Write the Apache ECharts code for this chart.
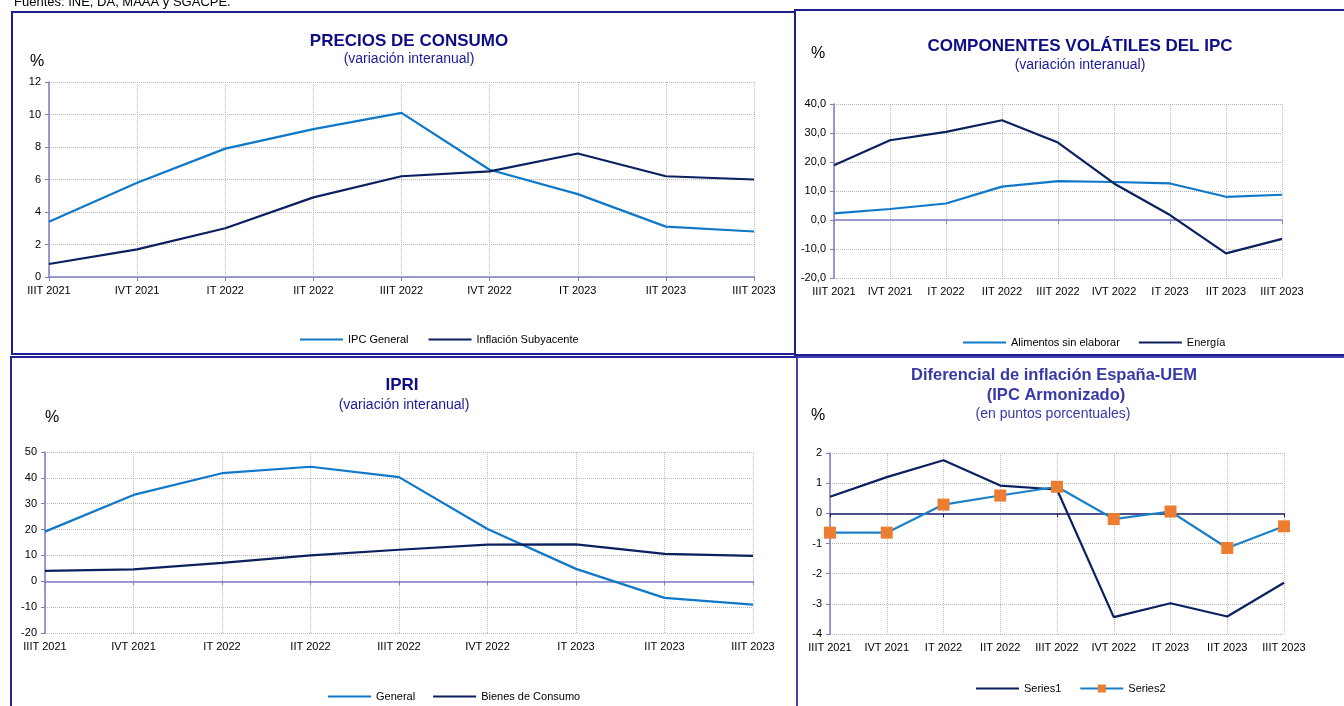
<!DOCTYPE html>
<html>
<head>
<meta charset="utf-8">
<script src="https://cdn.jsdelivr.net/npm/echarts@6/dist/echarts.min.js"></script>
<style>
  html, body { margin: 0; padding: 0; background: #fff; }
  #chart { width: 1344px; height: 706px; }
</style>
</head>
<body>
<div id="chart"></div>
<script>
// periodos (eje x común)
const periodos = ['IIIT 2021', 'IVT 2021', 'IT 2022', 'IIT 2022', 'IIIT 2022', 'IVT 2022', 'IT 2023', 'IIT 2023', 'IIIT 2023'];

// Precios de consumo
const ipcGeneral = [3.4, 5.8, 7.9, 9.1, 10.1, 6.6, 5.1, 3.1, 2.8];
const inflacionSubyacente = [0.8, 1.7, 3.0, 4.9, 6.2, 6.5, 7.6, 6.2, 6.0];

// Componentes volátiles
const alimentosSinElaborar = [2.3, 3.8, 5.7, 11.5, 13.4, 13.1, 12.6, 8.0, 8.7];
const energia = [18.9, 27.5, 30.4, 34.4, 26.7, 12.6, 1.7, -11.5, -6.5];

// IPRI
const ipriGeneral = [19.2, 33.4, 41.8, 44.3, 40.3, 20.2, 4.8, -6.4, -9.0];
const bienesConsumo = [4.0, 4.6, 7.1, 10.0, 12.2, 14.2, 14.3, 10.6, 9.8];

// Diferencial España-UEM
const series1 = [0.55, 1.2, 1.76, 0.92, 0.79, -3.44, -2.98, -3.42, -2.3];
const series2 = [-0.64, -0.64, 0.29, 0.59, 0.88, -0.19, 0.06, -1.15, -0.43];

const FONT = 'Liberation Sans, Arial, sans-serif';
const azulClaro = '#0f78c8';
const azulOscuro = '#0c1f5f';
const ejeColor = '#7d7dc6';
const rejilla = { show: true, lineStyle: { type: 'dotted', color: '#b8b8b8', width: 1 } };
const tituloColor = '#0d0d85';

// eje x principal (con etiquetas)
const ejeX = (gridIndex, conLinea) => ({
  type: 'category',
  gridIndex,
  data: periodos,
  boundaryGap: false,
  axisLine: { show: conLinea, onZero: false, lineStyle: { color: ejeColor, width: 1.5 } },
  axisTick: { show: conLinea, length: 4, lineStyle: { color: ejeColor } },
  axisLabel: { interval: 0, color: '#000', fontSize: 11, fontFamily: FONT, margin: 8 },
  splitLine: rejilla
});

// eje x en el cero (sin etiquetas)
const ejeCero = (gridIndex, color) => ({
  type: 'category',
  gridIndex,
  position: 'top',
  data: periodos,
  boundaryGap: false,
  axisLine: { show: true, onZero: true, lineStyle: { color, width: 1.5 } },
  axisTick: { show: true, inside: true, length: 4, lineStyle: { color } },
  axisLabel: { show: false },
  splitLine: { show: false }
});

const ejeY = (gridIndex, min, max, interval, formatter) => ({
  type: 'value',
  gridIndex,
  min, max, interval,
  axisLine: { show: true, lineStyle: { color: ejeColor, width: 1.5 } },
  axisTick: { show: true, length: 4, lineStyle: { color: ejeColor } },
  axisLabel: { color: '#000', fontSize: 11, fontFamily: FONT, margin: 8, formatter },
  splitLine: rejilla
});

const linea = (name, data, color, xAxisIndex, yAxisIndex, extra) => Object.assign({
  name, type: 'line', data, xAxisIndex, yAxisIndex,
  symbol: 'none',
  lineStyle: { color, width: 2.2 },
  itemStyle: { color },
  z: 3
}, extra || {});

const texto = (x, y, text, size, weight, color, align) => ({
  type: 'text', x, y,
  style: { text, fontSize: size, fontWeight: weight, fill: color, fontFamily: FONT, align: align || 'center', verticalAlign: 'middle' },
  z: 10
});

const marco = (x, y, width, height, stroke) => ({
  type: 'rect',
  shape: { x, y, width, height },
  style: { fill: 'none', stroke, lineWidth: 2 },
  z: 20
});

// entrada de leyenda solo con línea (sin marcador)
const soloLinea = name => ({ name, itemStyle: { opacity: 0 } });

const leyenda = (data, left, top, itemGap, itemHeight) => ({
  data, left, top, itemGap,
  padding: 0,
  itemWidth: 43, itemHeight: itemHeight || 14,
  textStyle: { fontSize: 11, color: '#000', fontFamily: FONT }
});

const chart = echarts.init(document.getElementById('chart'));

chart.setOption({
  animation: false,
  grid: [
    { left: 49, top: 82, width: 705, height: 195 },
    { left: 834, top: 104, width: 448, height: 174 },
    { left: 45, top: 452, width: 708, height: 181 },
    { left: 830, top: 453, width: 454, height: 181 }
  ],
  xAxis: [
    ejeX(0, true),
    ejeX(1, false),
    ejeCero(1, ejeColor),
    ejeX(2, false),
    ejeCero(2, ejeColor),
    ejeX(3, false),
    ejeCero(3, '#1c1c6e')
  ],
  yAxis: [
    ejeY(0, 0, 12, 2),
    ejeY(1, -20, 40, 10, v => v.toFixed(1).replace('.', ',')),
    ejeY(2, -20, 50, 10),
    ejeY(3, -4, 2, 1)
  ],
  legend: [
    leyenda([soloLinea('IPC General'), soloLinea('Inflación Subyacente')], 299, 334, 19),
    leyenda([soloLinea('Alimentos sin elaborar'), soloLinea('Energía')], 962, 337, 18),
    leyenda([soloLinea('General'), soloLinea('Bienes de Consumo')], 327, 691, 17),
    leyenda([soloLinea('Series1'), 'Series2'], 975, 683, 18, 10)
  ],
  series: [
    linea('IPC General', ipcGeneral, azulClaro, 0, 0),
    linea('Inflación Subyacente', inflacionSubyacente, azulOscuro, 0, 0),
    linea('Alimentos sin elaborar', alimentosSinElaborar, azulClaro, 1, 1),
    linea('Energía', energia, azulOscuro, 1, 1),
    linea('General', ipriGeneral, azulClaro, 3, 2),
    linea('Bienes de Consumo', bienesConsumo, azulOscuro, 3, 2),
    linea('Series1', series1, azulOscuro, 5, 3),
    linea('Series2', series2, '#1a80c8', 5, 3, {
      symbol: 'rect',
      symbolSize: 12,
      showSymbol: true,
      itemStyle: { color: '#ed7d31' },
      z: 4
    })
  ],
  graphic: [
    { type: 'text', x: 14, y: 9, style: { text: 'Fuentes: INE, DA, MAAA y SGACPE.', fontSize: 13, fill: '#000', fontFamily: FONT, verticalAlign: 'bottom' } },
    // marcos de los paneles
    marco(12, 12, 783, 342, '#1e1e8e'),
    marco(795, 10, 560, 345, '#1e1e8e'),
    marco(11, 357, 786, 360, '#24249a'),
    marco(797, 357, 560, 360, '#4040b0'),
    // títulos
    texto(409, 41, 'PRECIOS DE CONSUMO', 17, 'bold', tituloColor),
    texto(409, 59, '(variación interanual)', 14, 'normal', '#1a1a99'),
    texto(37, 62, '%', 16, 'normal', '#000'),
    texto(1080, 46, 'COMPONENTES VOLÁTILES DEL IPC', 17, 'bold', tituloColor),
    texto(1080, 65, '(variación interanual)', 14, 'normal', '#1a1a99'),
    texto(818, 54, '%', 16, 'normal', '#000'),
    texto(402, 385, 'IPRI', 17, 'bold', tituloColor),
    texto(404, 405, '(variación interanual)', 14, 'normal', '#1a1a99'),
    texto(52, 418, '%', 16, 'normal', '#000'),
    texto(1054, 375, 'Diferencial de inflación España-UEM', 16.5, 'bold', '#3838a6'),
    texto(1056, 395, '(IPC Armonizado)', 16.5, 'bold', '#3838a6'),
    texto(1053, 414, '(en puntos porcentuales)', 14, 'normal', '#3838a6'),
    texto(818, 416, '%', 16, 'normal', '#000')
  ]
});

window.addEventListener('resize', () => chart.resize());
</script>
</body>
</html>
